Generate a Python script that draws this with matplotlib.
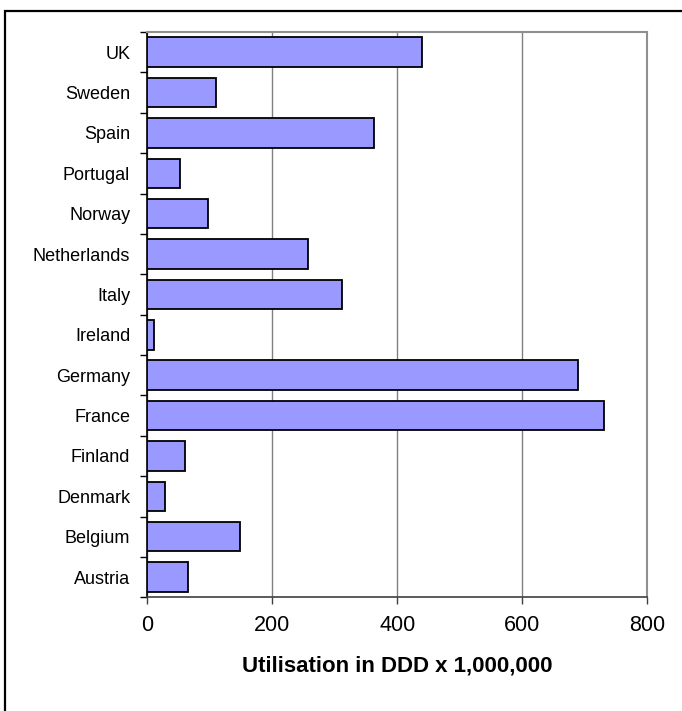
import matplotlib
matplotlib.use("Agg")
import matplotlib.pyplot as plt
from matplotlib.patches import Rectangle
import numpy as np

plt.rcParams['font.family'] = ['Liberation Sans', 'DejaVu Sans']

countries = ["Austria", "Belgium", "Denmark", "Finland", "France", "Germany",
             "Ireland", "Italy", "Netherlands", "Norway", "Portugal", "Spain",
             "Sweden", "UK"]
utilisation = [64.6, 148, 29, 61, 731, 689, 10, 311, 257, 97, 52, 363, 110, 439]
x_ticks = [0, 200, 400, 600, 800]
x_label = "Utilisation in DDD x 1,000,000"

W, H = 682, 711
fig = plt.figure(figsize=(W / 100, H / 100), dpi=100)

# outer chart frame (top and left edges visible)
fig.add_artist(Rectangle((5 / W, -0.1), 1.2, 1 - 11 / H + 0.1,
                         transform=fig.transFigure, fill=False,
                         edgecolor="black", linewidth=1.6))

ax = fig.add_axes([147.3 / W, 1 - 597.3 / H, 500 / W, (597.3 - 32) / H])

y = np.arange(len(countries))
ax.barh(y, utilisation, height=0.73, color="#9999FF", edgecolor="black",
        linewidth=1.3, zorder=3)

ax.set_xlim(0, 800)
ax.set_ylim(-0.5, len(countries) - 0.5)
ax.set_xticks(x_ticks)
ax.set_xticklabels([str(t) for t in x_ticks], fontsize=15.5)
ax.tick_params(axis="x", length=5, width=1, color="#404040", pad=7.5)

# category boundaries carry the ticks, centres carry the labels
ax.set_yticks(np.arange(len(countries) + 1) - 0.5)
ax.set_yticklabels([])
ax.set_yticks(y, minor=True)
ax.set_yticklabels(countries, minor=True, fontsize=13)
ax.tick_params(axis="y", which="major", length=5, width=1, color="black")
ax.tick_params(axis="y", which="minor", length=0, pad=12.3)

ax.xaxis.grid(True, color="#808080", linewidth=1, zorder=0)
ax.set_axisbelow(True)

ax.spines["top"].set_color("#909090")
ax.spines["right"].set_color("#909090")
ax.spines["top"].set_linewidth(1.5)
ax.spines["right"].set_linewidth(1.5)
ax.spines["bottom"].set_color("#404040")
ax.spines["bottom"].set_linewidth(1.2)
ax.spines["left"].set_color("black")
ax.spines["left"].set_linewidth(1.2)

ax.set_xlabel(x_label, fontsize=16, fontweight="bold", labelpad=14)

fig.savefig("out.png", dpi=100)
